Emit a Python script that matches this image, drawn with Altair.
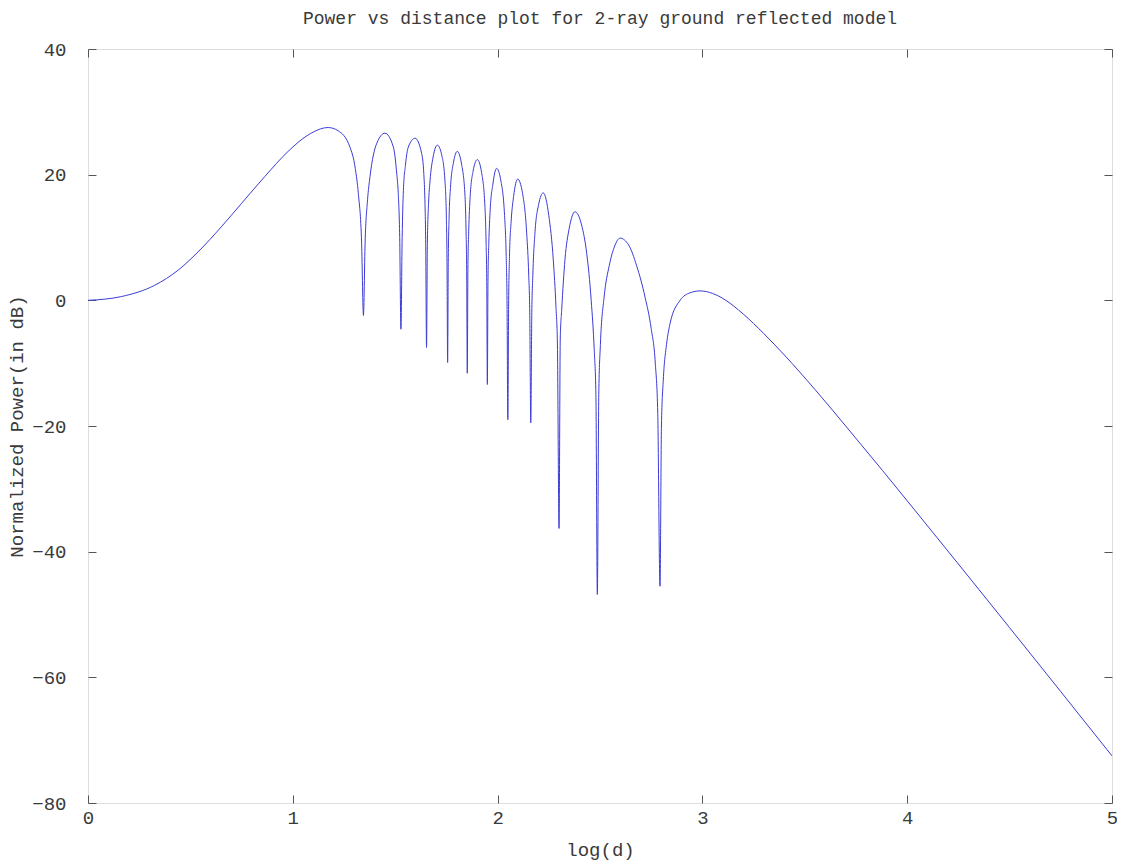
import altair as alt
import pandas as pd

# log10(distance) values
log_d = [
    0.000, 0.163, 0.326, 0.440, 0.537, 0.651, 0.749, 0.863, 0.977, 1.074, 1.173, 1.221, 1.279, 1.305, 1.320, 1.336, 1.345,
    1.353, 1.365, 1.377, 1.410, 1.450, 1.491, 1.508, 1.515, 1.522, 1.528,
    1.534, 1.540, 1.550, 1.564, 1.597, 1.629, 1.640, 1.645, 1.649, 1.653,
    1.657, 1.663, 1.670, 1.685, 1.706, 1.728, 1.743, 1.750, 1.753, 1.756,
    1.759, 1.763, 1.770, 1.785, 1.803, 1.825, 1.841, 1.846, 1.849, 1.852,
    1.855, 1.859, 1.866, 1.880, 1.901, 1.922, 1.938, 1.944, 1.947, 1.950,
    1.953, 1.957, 1.964, 1.977, 1.995, 2.015, 2.034, 2.042, 2.046, 2.050,
    2.054, 2.058, 2.066, 2.078, 2.098, 2.122, 2.142, 2.152, 2.157, 2.162,
    2.167, 2.172, 2.183, 2.200, 2.223, 2.250, 2.272, 2.285, 2.292, 2.300,
    2.306, 2.313, 2.329, 2.350, 2.378, 2.410, 2.435, 2.457, 2.472, 2.480, 2.487,
    2.494, 2.502, 2.520, 2.545, 2.570, 2.598, 2.640, 2.679, 2.720, 2.750, 2.770, 2.782, 2.793,
    2.800, 2.809, 2.825, 2.842, 2.891, 2.940, 2.988, 3.050, 3.100, 3.200, 3.300, 3.400, 3.550, 3.720, 3.880,
    4.000, 4.500, 5.000,
]
# normalized received power in dB
power_db = [
    0.0, 0.6, 2.4, 4.8, 7.7, 11.7, 15.4, 19.7, 23.7, 26.3, 27.5, 27.0, 24.4, 21.0, 17.0, 9.1, -2.4,
    9.1, 16.0, 19.7, 25.0, 26.6, 24.4, 20.0, 17.0, 10.0, -4.6,
    10.0, 17.5, 21.5, 24.4, 25.8, 23.4, 20.0, 16.0, 9.0, -7.5,
    9.0, 15.5, 19.0, 22.8, 24.7, 23.0, 19.0, 13.0, 6.0, -9.9,
    6.0, 13.0, 18.0, 22.0, 23.7, 21.5, 16.5, 11.0, 5.0, -11.6,
    5.0, 11.0, 16.5, 20.5, 22.4, 20.3, 15.0, 9.0, 3.0, -13.4,
    3.0, 9.0, 14.5, 18.5, 21.0, 19.2, 13.5, 7.0, 0.0, -19.0,
    0.0, 7.0, 12.5, 16.5, 19.3, 17.0, 10.7, 4.0, -2.0, -19.5,
    -2.0, 4.0, 11.0, 15.2, 17.1, 13.5, 6.4, -1.0, -6.8, -36.3,
    -6.0, -1.5, 6.5, 11.5, 14.1, 12.0, 7.5, 0.0, -8.0, -15.0, -46.8,
    -15.0, -7.0, 0.5, 5.5, 8.5, 9.9, 8.8, 5.5, 0.5, -4.5, -10.0, -18.0, -45.5,
    -20.0, -12.7, -7.0, -3.7, 0.0, 1.2, 1.5, 1.1, 0.3, -2.2, -5.3, -8.7, -14.2, -20.8, -27.1,
    -31.9, -52.1, -72.5,
]

x_ticks = [0, 1, 2, 3, 4, 5]
y_ticks = [-80, -60, -40, -20, 0, 20, 40]

df = pd.DataFrame({"logd": log_d, "p": power_db})

FONT = "Liberation Mono"
TXT = "#3a3a3a"
TICK = "#555555"
TS = 8

x_scale = alt.Scale(domain=[0, 5], nice=False, zero=False)
y_scale = alt.Scale(domain=[-80, 40], nice=False, zero=False)

def axis(orient, labels, title="", **kw):
    return alt.Axis(
        orient=orient, values=x_ticks if orient in ("bottom", "top") else y_ticks,
        domain=False, grid=False, ticks=True, tickSize=TS, offset=-TS,
        tickColor=TICK, tickWidth=1, labels=labels, title=title,
        labelFont=FONT, labelFontSize=19, labelColor=TXT, labelFlush=False,
        labelOverlap=False, labelBound=False,
        titleFont=FONT, titleFontSize=19, titleColor=TXT, titleFontWeight="normal",
        **kw,
    )

line = alt.Chart(df).mark_line(
    color="#3b3bd6", strokeWidth=1, interpolate="monotone", clip=True
).encode(
    x=alt.X("logd:Q", scale=x_scale,
            axis=axis("bottom", True, "log(d)", labelPadding=5, titlePadding=13)),
    y=alt.Y("p:Q", scale=y_scale,
            axis=axis("left", True, "Normalized Power(in dB)", labelPadding=TS + 14, titlePadding=5)),
)

mirror = alt.Chart(df).mark_line(strokeOpacity=0).encode(
    x=alt.X("logd:Q", scale=x_scale, axis=axis("top", False)),
    y=alt.Y("p:Q", scale=y_scale, axis=axis("right", False)),
)

chart = alt.layer(line, mirror).resolve_axis(
    x="independent", y="independent"
).properties(
    width=1024,
    height=754,
    title=alt.TitleParams(
        text="Power vs distance plot for 2-ray ground reflected model",
        font=FONT, fontSize=18, fontWeight="normal", color=TXT,
        anchor="middle", offset=12,
    ),
    autosize=alt.AutoSizeParams(type="none"),
    padding={"left": 80, "top": 41, "right": 5, "bottom": 62},
).configure_view(
    stroke="#5a5a5a", strokeWidth=1
).configure(background="white")

chart.save("out.html", embed_options={"renderer": "svg", "actions": False})
